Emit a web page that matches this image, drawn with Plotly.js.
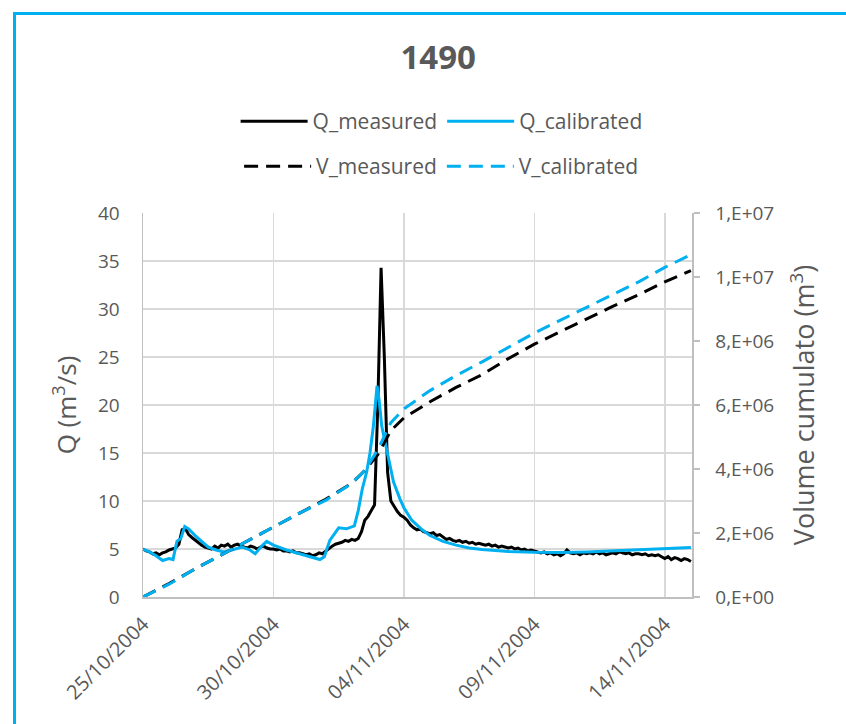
<!DOCTYPE html>
<html>
<head>
<meta charset="utf-8">
<script src="https://cdn.plot.ly/plotly-3.0.1.min.js"></script>
<style>
  body { margin: 0; overflow: hidden; background: #fff; }
  #chart { position: absolute; left: 0; top: 0; width: 846px; height: 724px; }
  #frame { position: absolute; left: 13px; top: 12px; width: 900px; height: 800px;
           border: 3px solid #00b0f0; pointer-events: none; }
</style>
</head>
<body>
<div id="chart"></div>
<div id="frame"></div>
<script>
// start of the record, Q_measured is sampled every 3 hours
const startDate = Date.UTC(2004, 9, 25);
const stepHours = 3;

const qMeasured = [
  5.0, 4.8, 4.7, 4.5, 4.6, 4.4, 4.6, 4.7,
  4.9, 5.0, 5.1, 5.5, 7.0, 7.1, 6.5, 6.2,
  5.9, 5.7, 5.4, 5.2, 5.1, 5.0, 5.3, 5.1,
  5.4, 5.3, 5.5, 5.2, 5.4, 5.5, 5.3, 5.2,
  5.1, 5.3, 5.2, 5.0, 5.2, 5.3, 5.1, 5.0,
  5.0, 4.9, 5.0, 4.8, 4.8, 4.7, 4.8, 4.6,
  4.6, 4.5, 4.4, 4.5, 4.3, 4.4, 4.6, 4.5,
  4.8, 5.0, 5.3, 5.5, 5.6, 5.7, 5.9, 5.8,
  6.0, 5.9, 6.1, 6.8, 8.0, 8.4, 9.0, 9.6,
  20.0, 34.3, 25.0, 13.0, 10.0, 9.4, 8.9, 8.5,
  8.3, 8.0, 7.5, 7.2, 7.0, 7.1, 6.8, 6.7,
  6.6, 6.7, 6.4, 6.5, 6.2, 6.0, 6.1, 5.9,
  5.8, 5.9, 5.7, 5.8, 5.6, 5.7, 5.5, 5.6,
  5.5, 5.4, 5.5, 5.3, 5.4, 5.2, 5.3, 5.2,
  5.1, 5.2, 5.0, 5.1, 4.9, 5.0, 4.8, 4.9,
  4.8, 4.7, 4.6, 4.7, 4.5, 4.6, 4.4, 4.5,
  4.3, 4.5, 4.9, 4.6, 4.5, 4.6, 4.4, 4.6,
  4.5, 4.6, 4.5, 4.7, 4.5, 4.6, 4.4, 4.5,
  4.6, 4.5, 4.7, 4.6, 4.5, 4.6, 4.4, 4.5,
  4.5, 4.4, 4.5, 4.3, 4.4, 4.3, 4.4, 4.2,
  4.0, 4.2, 3.9, 4.1, 4.0, 3.8, 4.0, 3.9,
  3.7
];

// calibrated discharge, day offset from start
const qCalDays = [
  0, 0.25, 0.5, 0.75, 1.0, 1.15, 1.3, 1.45, 1.6, 1.75, 2.0, 2.25, 2.5, 2.8,
  3.1, 3.4, 3.8, 4.1, 4.3, 4.55, 4.74, 5.0, 5.5, 6.0, 6.5, 6.78, 6.95, 7.16,
  7.5, 7.8, 8.1, 8.25, 8.4, 8.57, 8.7, 8.83, 8.97, 9.05, 9.15, 9.3, 9.46, 9.6,
  9.85, 10.0, 10.3, 10.7, 11.0, 11.5, 12.0, 12.5, 13.0, 13.5, 14.0, 15.0,
  16.0, 17.0, 18.0, 19.0, 20.0, 21.0
];
const qCalibrated = [
  5.0, 4.7, 4.3, 3.8, 4.0, 3.9, 5.8, 6.1, 7.35, 7.1, 6.4, 5.8, 5.2, 4.9,
  4.7, 4.9, 5.2, 4.9, 4.5, 5.3, 5.8, 5.4, 4.9, 4.5, 4.1, 3.9, 4.2, 5.9,
  7.2, 7.1, 7.4, 9.0, 11.2, 13.0, 15.0, 17.8, 22.0, 20.5, 17.8, 15.8, 13.5, 12.0,
  10.2, 9.3, 8.0, 7.0, 6.4, 5.8, 5.4, 5.1, 4.95, 4.85, 4.75, 4.65,
  4.63, 4.7, 4.8, 4.9, 5.0, 5.15
];

// cumulated volumes (m3), one value per day
const vDays = [0, 1, 2, 3, 4, 5, 6, 7, 8, 8.5, 9, 9.5, 10, 11, 12, 13, 14, 15, 16, 17, 18, 19, 20, 21];
const vMeasured = [
  0, 0.42e6, 0.88e6, 1.32e6, 1.76e6, 2.2e6, 2.62e6, 3.05e6, 3.55e6, 3.95e6, 4.45e6,
  5.2e6, 5.6e6, 6.1e6, 6.55e6, 6.95e6, 7.45e6, 7.9e6, 8.3e6, 8.7e6, 9.08e6, 9.45e6,
  9.85e6, 10.2e6
];
const vCalibrated = [
  0, 0.4e6, 0.88e6, 1.32e6, 1.75e6, 2.2e6, 2.62e6, 3.02e6, 3.55e6, 3.95e6, 4.6e6,
  5.45e6, 5.88e6, 6.45e6, 6.92e6, 7.35e6, 7.8e6, 8.25e6, 8.65e6, 9.05e6, 9.45e6,
  9.85e6, 10.3e6, 10.7e6
];

const xTicks = ['2004-10-25', '2004-10-30', '2004-11-04', '2004-11-09', '2004-11-14'];
const xTickText = ['25/10/2004', '30/10/2004', '04/11/2004', '09/11/2004', '14/11/2004'];
const y2Ticks = [0, 2e6, 4e6, 6e6, 8e6, 10e6, 12e6];
const y2TickText = ['0,E+00', '2,E+06', '4,E+06', '6,E+06', '8,E+06', '1,E+07', '1,E+07'];

function toDate(ms) {
  return new Date(ms).toISOString().slice(0, 19).replace('T', ' ');
}
function dayDate(d) { return toDate(startDate + d * 86400e3); }

const qMeasTimes = qMeasured.map((v, i) => toDate(startDate + i * stepHours * 3600e3));

const font = 'Open Sans, sans-serif';
const grey = '#595959';
const dashed = '14px,8px';

const data = [
  {x: qMeasTimes, y: qMeasured, name: 'Q_measured', mode: 'lines',
   line: {color: '#000000', width: 3}, legend: 'legend'},
  {x: qCalDays.map(dayDate), y: qCalibrated, name: 'Q_calibrated', mode: 'lines',
   line: {color: '#00b0f0', width: 3}, legend: 'legend'},
  {x: vDays.map(dayDate), y: vMeasured, name: 'V_measured', mode: 'lines', yaxis: 'y2',
   line: {color: '#000000', width: 3, dash: dashed}, legend: 'legend2'},
  {x: vDays.map(dayDate), y: vCalibrated, name: 'V_calibrated', mode: 'lines', yaxis: 'y2',
   line: {color: '#00b0f0', width: 3, dash: dashed}, legend: 'legend2'}
];

const legendBase = {
  orientation: 'h', x: 0.522, xref: 'container', xanchor: 'center',
  yref: 'container', yanchor: 'middle',
  font: {size: 21, color: grey}, itemwidth: 67, traceorder: 'normal'
};

const layout = {
  width: 846,
  height: 724,
  margin: {l: 143, r: 154, t: 213, b: 127},
  paper_bgcolor: '#ffffff',
  plot_bgcolor: '#ffffff',
  font: {family: font, color: grey, size: 19},
  title: {text: '<b>1490</b>', font: {size: 33, color: grey, family: font},
          x: 0.518, xref: 'container', y: 0.921, yref: 'container', yanchor: 'middle'},
  showlegend: true,
  legend: Object.assign({y: 0.832}, legendBase),
  legend2: Object.assign({y: 0.770}, legendBase),
  xaxis: {
    type: 'date',
    range: ['2004-10-25', '2004-11-15 01:00'],
    tickvals: xTicks,
    ticktext: xTickText,
    tickangle: -45,
    tickfont: {size: 20, color: grey},
    ticklabelstandoff: 6,
    showgrid: true, gridcolor: '#d9d9d9', gridwidth: 1.5,
    showline: true, linecolor: '#bfbfbf', linewidth: 1.5,
    ticks: '', zeroline: false
  },
  yaxis: {
    title: {text: 'Q (m<sup>3</sup>/s)', font: {size: 26, color: grey}, standoff: 14},
    range: [0, 40], dtick: 5,
    tickfont: {size: 19, color: grey},
    ticklabelstandoff: 18,
    showgrid: true, gridcolor: '#d9d9d9', gridwidth: 1.5,
    showline: true, linecolor: '#bfbfbf', linewidth: 1.5,
    zeroline: false, ticks: ''
  },
  yaxis2: {
    title: {text: 'Volume cumulato (m<sup>3</sup>)', font: {size: 27, color: grey}, standoff: 22},
    overlaying: 'y', side: 'right',
    range: [0, 1.2e7],
    tickvals: y2Ticks, ticktext: y2TickText,
    tickfont: {size: 19, color: grey},
    ticklabelstandoff: 12,
    showgrid: false, zeroline: false,
    showline: true, linecolor: '#bfbfbf', linewidth: 1.5,
    ticks: 'outside', ticklen: 6, tickcolor: '#bfbfbf', tickwidth: 1.5
  }
};

const config = {
  displayModeBar: false,
  staticPlot: true
};

Plotly.newPlot('chart', data, layout, config);
</script>
</body>
</html>
